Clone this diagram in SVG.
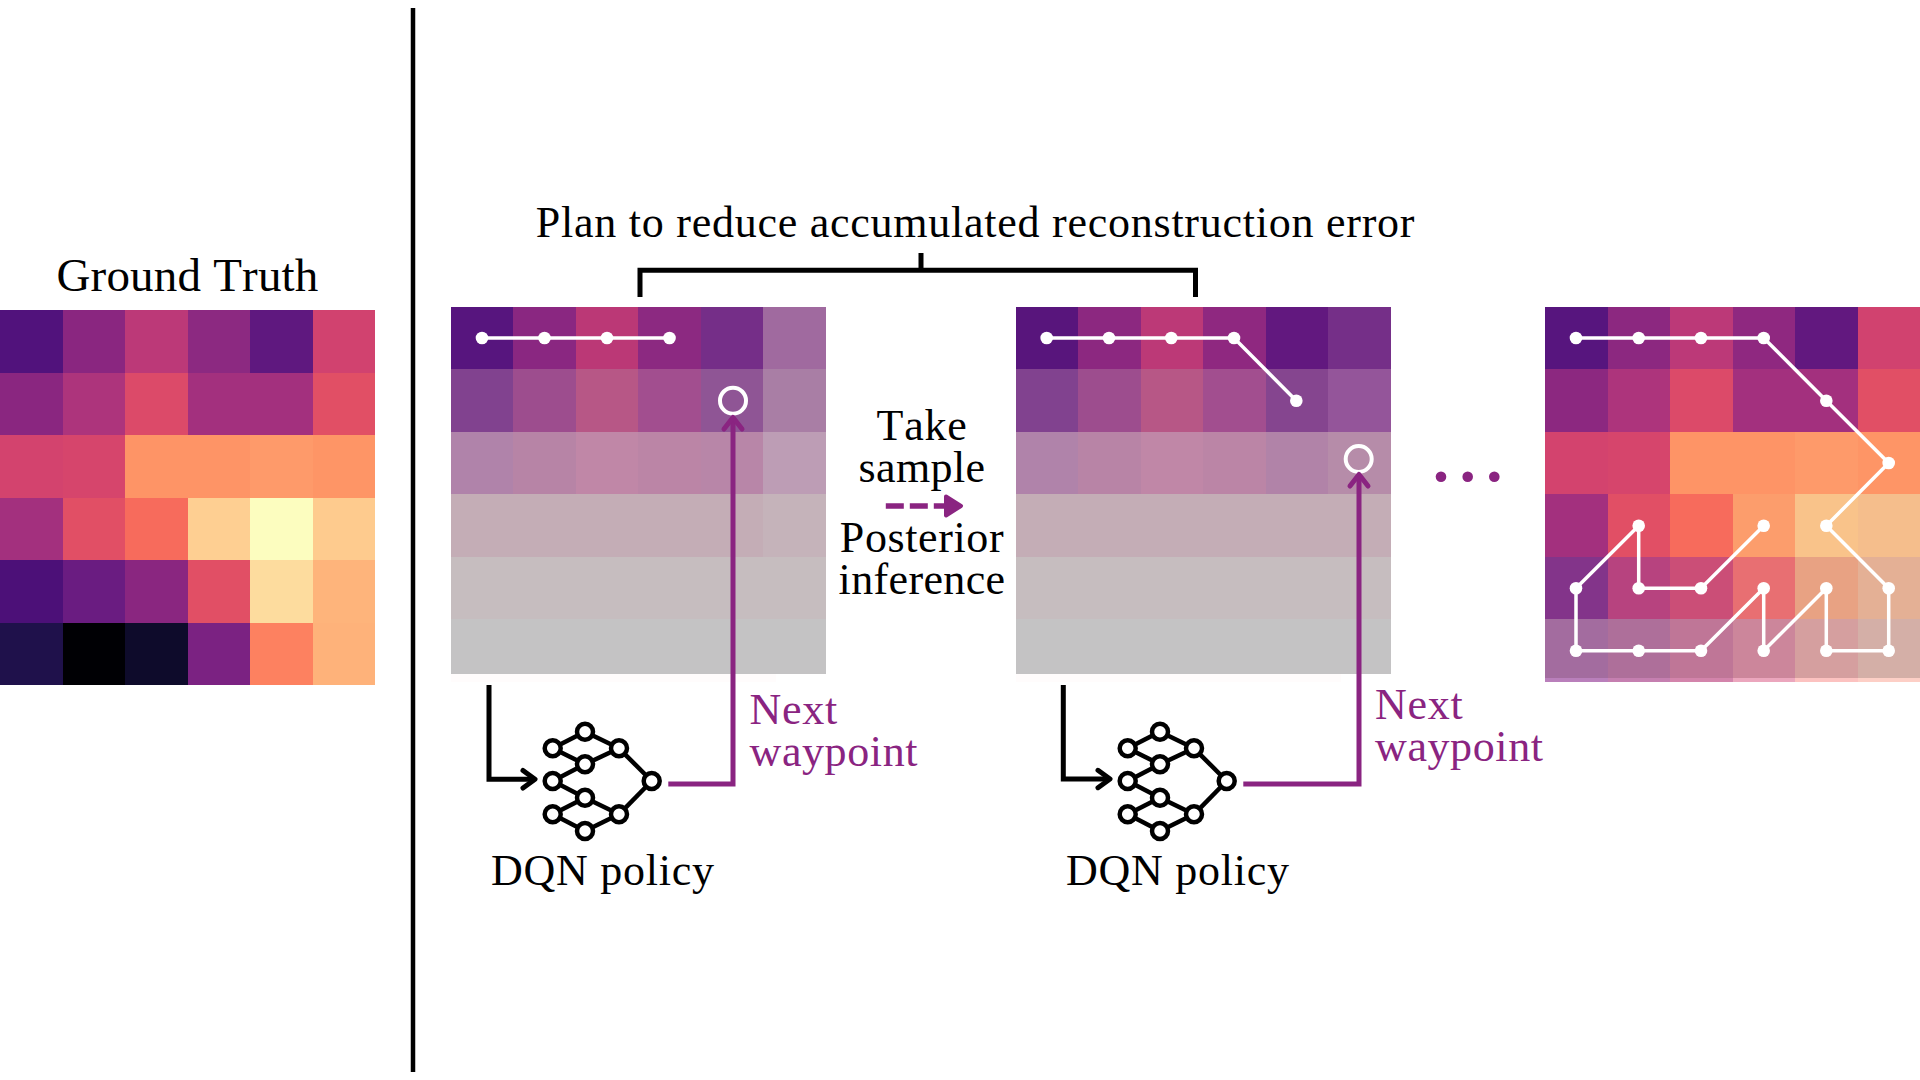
<svg xmlns="http://www.w3.org/2000/svg" width="1920" height="1080" viewBox="0 0 1920 1080">
<style>
text{font-family:"Liberation Serif","Times New Roman",serif;font-size:44px;fill:#000;letter-spacing:.75px;font-kerning:none}
.m{text-anchor:middle}
.p{fill:#8a2481}
.path{fill:none;stroke:#fff;stroke-width:3.5;stroke-linejoin:round}
.dot{fill:#fff}
.ring{fill:none;stroke:#fff;stroke-width:4}
.blk{fill:none;stroke:#000;stroke-width:5}
.pur{fill:none;stroke:#8a2481;stroke-width:5}
.net line{stroke:#000;stroke-width:4.5}
.net circle{fill:#fff;stroke:#000;stroke-width:4.5}
</style>
<defs>
<g id="net" class="net">
<line x1="552.7" y1="748.3" x2="585" y2="731.7"/><line x1="585" y1="731.7" x2="619" y2="748.3"/>
<line x1="552.7" y1="748.3" x2="585" y2="764.3"/><line x1="585" y1="764.3" x2="619" y2="748.3"/>
<line x1="552.7" y1="781" x2="585" y2="764.3"/><line x1="552.7" y1="781" x2="585" y2="797.7"/>
<line x1="552.7" y1="814.3" x2="585" y2="797.7"/><line x1="585" y1="797.7" x2="619" y2="814.3"/>
<line x1="552.7" y1="814.3" x2="585" y2="831"/><line x1="585" y1="831" x2="619" y2="814.3"/>
<line x1="619" y1="748.3" x2="651.7" y2="781"/><line x1="619" y1="814.3" x2="651.7" y2="781"/>
<circle cx="585" cy="731.7" r="8"/><circle cx="552.7" cy="748.3" r="8"/><circle cx="619" cy="748.3" r="8"/>
<circle cx="585" cy="764.3" r="8"/><circle cx="552.7" cy="781" r="8"/><circle cx="651.7" cy="781" r="8"/>
<circle cx="585" cy="797.7" r="8"/><circle cx="552.7" cy="814.3" r="8"/><circle cx="619" cy="814.3" r="8"/>
<circle cx="585" cy="831" r="8"/>
</g>
</defs>
<rect width="1920" height="1080" fill="#fff"/>

<g id="ground-truth">
<g shape-rendering="crispEdges">
<rect x="0" y="310" width="63" height="63" fill="#51127c"/><rect x="63" y="310" width="63" height="63" fill="#8a2680"/><rect x="125" y="310" width="63" height="63" fill="#bc3978"/><rect x="188" y="310" width="63" height="63" fill="#8c2981"/><rect x="250" y="310" width="63" height="63" fill="#5f187f"/><rect x="313" y="310" width="62" height="63" fill="#d1426f"/>
<rect x="0" y="373" width="63" height="62" fill="#8a2680"/><rect x="63" y="373" width="63" height="62" fill="#ad347c"/><rect x="125" y="373" width="63" height="62" fill="#dc4a69"/><rect x="188" y="373" width="63" height="62" fill="#a3307e"/><rect x="250" y="373" width="63" height="62" fill="#a3307e"/><rect x="313" y="373" width="62" height="62" fill="#e14f65"/>
<rect x="0" y="435" width="63" height="63" fill="#d3436e"/><rect x="63" y="435" width="63" height="63" fill="#d6456c"/><rect x="125" y="435" width="63" height="63" fill="#fe9466"/><rect x="188" y="435" width="63" height="63" fill="#fe9466"/><rect x="250" y="435" width="63" height="63" fill="#fe9a6a"/><rect x="313" y="435" width="62" height="63" fill="#fe9566"/>
<rect x="0" y="498" width="63" height="63" fill="#a3307e"/><rect x="63" y="498" width="63" height="63" fill="#e14f65"/><rect x="125" y="498" width="63" height="63" fill="#f76b5c"/><rect x="188" y="498" width="63" height="63" fill="#fecf92"/><rect x="250" y="498" width="63" height="63" fill="#fcfdbf"/><rect x="313" y="498" width="62" height="63" fill="#fecb8e"/>
<rect x="0" y="560" width="63" height="63" fill="#4c1078"/><rect x="63" y="560" width="63" height="63" fill="#6a1c81"/><rect x="125" y="560" width="63" height="63" fill="#8a2680"/><rect x="188" y="560" width="63" height="63" fill="#e14f65"/><rect x="250" y="560" width="63" height="63" fill="#fddc9e"/><rect x="313" y="560" width="62" height="63" fill="#feb47b"/>
<rect x="0" y="623" width="63" height="62" fill="#1f114b"/><rect x="63" y="623" width="63" height="62" fill="#000004"/><rect x="125" y="623" width="63" height="62" fill="#0e0b2b"/><rect x="188" y="623" width="63" height="62" fill="#7b2282"/><rect x="250" y="623" width="63" height="62" fill="#fd8160"/><rect x="313" y="623" width="62" height="62" fill="#feb27a"/>
</g>
<text class="m" x="187.500" y="291" style="font-size:47px;letter-spacing:.2px">Ground Truth</text>
</g>

<g id="divider"><line x1="413" y1="8" x2="413" y2="1072" stroke="#000" stroke-width="4.500"/></g>

<g id="belief-1">
<g shape-rendering="crispEdges">
<rect x="450.500" y="306.500" width="63" height="63" fill="#57157e"/><rect x="513" y="306.500" width="63" height="63" fill="#8a2781"/><rect x="575.500" y="306.500" width="63" height="63" fill="#bb3876"/><rect x="638" y="306.500" width="63" height="63" fill="#8c2981"/><rect x="700.500" y="306.500" width="63" height="63" fill="#752e88"/><rect x="763" y="306.500" width="62.500" height="63" fill="#a06a9f"/>
<rect x="450.500" y="369" width="63" height="63" fill="#81428f"/><rect x="513" y="369" width="63" height="63" fill="#9d4d8e"/><rect x="575.500" y="369" width="63" height="63" fill="#b75786"/><rect x="638" y="369" width="63" height="63" fill="#a24e8f"/><rect x="700.500" y="369" width="63" height="63" fill="#8f5595"/><rect x="763" y="369" width="62.500" height="63" fill="#a97ea5"/>
<rect x="450.500" y="431.500" width="63" height="63" fill="#b083aa"/><rect x="513" y="431.500" width="63" height="63" fill="#b784a6"/><rect x="575.500" y="431.500" width="63" height="63" fill="#c087a7"/><rect x="638" y="431.500" width="63" height="63" fill="#bb85a6"/><rect x="700.500" y="431.500" width="63" height="63" fill="#b886a8"/><rect x="763" y="431.500" width="62.500" height="63" fill="#bd9db5"/>
<rect x="450.500" y="494" width="375" height="63" fill="#c4adb6"/><rect x="763" y="494" width="62.500" height="63" fill="#c5b3ba"/>
<rect x="450.500" y="556.500" width="375" height="63" fill="#c6bdbf"/>
<rect x="450.500" y="619" width="375" height="54.500" fill="#c4c3c4"/>
<rect x="450.500" y="673.500" width="325" height="8" fill="#fffcfc"/>
</g>
<polyline class="path" points="482,338 544.500,338 607,338 669.500,338"/>
<circle class="dot" cx="482" cy="338" r="6.300"/><circle class="dot" cx="544.500" cy="338" r="6.300"/><circle class="dot" cx="607" cy="338" r="6.300"/><circle class="dot" cx="669.500" cy="338" r="6.300"/>
<circle class="ring" cx="733" cy="400.700" r="13"/>
</g>

<g id="belief-2">
<g shape-rendering="crispEdges">
<rect x="1015.500" y="306.500" width="63" height="63" fill="#58157c"/><rect x="1078" y="306.500" width="63" height="63" fill="#8c2880"/><rect x="1140.500" y="306.500" width="63" height="63" fill="#bc3977"/><rect x="1203" y="306.500" width="63" height="63" fill="#8f2880"/><rect x="1265.500" y="306.500" width="63" height="63" fill="#62187f"/><rect x="1328" y="306.500" width="62.500" height="63" fill="#752f88"/>
<rect x="1015.500" y="369" width="63" height="63" fill="#81428f"/><rect x="1078" y="369" width="63" height="63" fill="#9d4d8e"/><rect x="1140.500" y="369" width="63" height="63" fill="#b75786"/><rect x="1203" y="369" width="63" height="63" fill="#a24e8f"/><rect x="1265.500" y="369" width="63" height="63" fill="#85458f"/><rect x="1328" y="369" width="62.500" height="63" fill="#94559a"/>
<rect x="1015.500" y="431.500" width="63" height="63" fill="#b083aa"/><rect x="1078" y="431.500" width="63" height="63" fill="#b884a6"/><rect x="1140.500" y="431.500" width="63" height="63" fill="#c087a7"/><rect x="1203" y="431.500" width="63" height="63" fill="#bb85a6"/><rect x="1265.500" y="431.500" width="63" height="63" fill="#b183a8"/><rect x="1328" y="431.500" width="62.500" height="63" fill="#b68ca9"/>
<rect x="1015.500" y="494" width="375" height="63" fill="#c4adb6"/>
<rect x="1015.500" y="556.500" width="375" height="63" fill="#c6bdbf"/>
<rect x="1015.500" y="619" width="375" height="55" fill="#c4c3c4"/>
<rect x="1015.500" y="674" width="325" height="8" fill="#fffcfc"/>
</g>
<polyline class="path" points="1046.700,338 1109,338 1171.300,338 1234,338 1296.300,400.700"/>
<circle class="dot" cx="1046.700" cy="338" r="6.300"/><circle class="dot" cx="1109" cy="338" r="6.300"/><circle class="dot" cx="1171.300" cy="338" r="6.300"/><circle class="dot" cx="1234" cy="338" r="6.300"/><circle class="dot" cx="1296.300" cy="400.700" r="6.300"/>
<circle class="ring" cx="1358.700" cy="459" r="13"/>
</g>

<g id="belief-3">
<g shape-rendering="crispEdges">
<rect x="1545" y="306.500" width="63" height="63" fill="#57157e"/><rect x="1607.500" y="306.500" width="63" height="63" fill="#8c2880"/><rect x="1670" y="306.500" width="63" height="63" fill="#bc3978"/><rect x="1732.500" y="306.500" width="63" height="63" fill="#8f2880"/><rect x="1795" y="306.500" width="63" height="63" fill="#62187f"/><rect x="1857.500" y="306.500" width="63" height="63" fill="#d1426f"/>
<rect x="1545" y="369" width="63" height="63" fill="#8c2880"/><rect x="1607.500" y="369" width="63" height="63" fill="#ad347c"/><rect x="1670" y="369" width="63" height="63" fill="#dc4a69"/><rect x="1732.500" y="369" width="125" height="63" fill="#a3307e"/><rect x="1857.500" y="369" width="63" height="63" fill="#e14f65"/>
<rect x="1545" y="431.500" width="63" height="63" fill="#d3436e"/><rect x="1607.500" y="431.500" width="63" height="63" fill="#d6456c"/><rect x="1670" y="431.500" width="125" height="63" fill="#fe9466"/><rect x="1795" y="431.500" width="63" height="63" fill="#fe9a6a"/><rect x="1857.500" y="431.500" width="63" height="63" fill="#fe9566"/>
<rect x="1545" y="494" width="63" height="63" fill="#a3307e"/><rect x="1607.500" y="494" width="63" height="63" fill="#e14f65"/><rect x="1670" y="494" width="63" height="63" fill="#f76b5c"/><rect x="1732.500" y="494" width="63" height="63" fill="#fc9d6c"/><rect x="1795" y="494" width="63" height="63" fill="#f9c38a"/><rect x="1857.500" y="494" width="63" height="63" fill="#f5be8c"/>
<rect x="1545" y="556.500" width="63" height="63" fill="#83348a"/><rect x="1607.500" y="556.500" width="63" height="63" fill="#b7437f"/><rect x="1670" y="556.500" width="63" height="63" fill="#cb4e77"/><rect x="1732.500" y="556.500" width="63" height="63" fill="#e86f72"/><rect x="1795" y="556.500" width="63" height="63" fill="#e8a283"/><rect x="1857.500" y="556.500" width="63" height="63" fill="#e4b095"/>
<rect x="1545" y="619" width="63" height="59" fill="#a36c9f"/><rect x="1607.500" y="619" width="63" height="59" fill="#ae6f9a"/><rect x="1670" y="619" width="63" height="59" fill="#bf7697"/><rect x="1732.500" y="619" width="63" height="59" fill="#cc869b"/><rect x="1795" y="619" width="63" height="59" fill="#d59f9f"/><rect x="1857.500" y="619" width="63" height="59" fill="#d4afa7"/>
<rect x="1545" y="678" width="63" height="3.500" fill="#b97fbb"/><rect x="1607.500" y="678" width="63" height="3.500" fill="#c57fb0"/><rect x="1670" y="678" width="63" height="3.500" fill="#d384ab"/><rect x="1732.500" y="678" width="63" height="3.500" fill="#eba6bd"/><rect x="1795" y="678" width="63" height="3.500" fill="#fcc2c0"/><rect x="1857.500" y="678" width="63" height="3.500" fill="#fdcfc6"/>
</g>
<polyline class="path" points="1576,338 1638.700,338 1701,338 1763.700,338 1826.300,400.700 1888.700,463 1826.300,525.700 1888.700,588.300 1888.700,650.700 1826.300,650.700 1826.300,588.300 1763.700,650.700 1763.700,588.300 1701,650.700 1638.700,650.700 1576,650.700 1576,588.300 1638.700,525.700 1638.700,588.300 1701,588.300 1763.700,525.700"/>
<g class="dot">
<circle cx="1576" cy="338" r="6.300"/><circle cx="1638.700" cy="338" r="6.300"/><circle cx="1701" cy="338" r="6.300"/><circle cx="1763.700" cy="338" r="6.300"/><circle cx="1826.300" cy="400.700" r="6.300"/><circle cx="1888.700" cy="463" r="6.300"/><circle cx="1826.300" cy="525.700" r="6.300"/><circle cx="1888.700" cy="588.300" r="6.300"/><circle cx="1888.700" cy="650.700" r="6.300"/><circle cx="1826.300" cy="650.700" r="6.300"/><circle cx="1826.300" cy="588.300" r="6.300"/><circle cx="1763.700" cy="650.700" r="6.300"/><circle cx="1763.700" cy="588.300" r="6.300"/><circle cx="1701" cy="650.700" r="6.300"/><circle cx="1638.700" cy="650.700" r="6.300"/><circle cx="1576" cy="650.700" r="6.300"/><circle cx="1576" cy="588.300" r="6.300"/><circle cx="1638.700" cy="525.700" r="6.300"/><circle cx="1638.700" cy="588.300" r="6.300"/><circle cx="1701" cy="588.300" r="6.300"/><circle cx="1763.700" cy="525.700" r="6.300"/>
</g>
</g>

<g id="connectors">
<path class="blk" d="M640 297V270.300H1195.500V297M921 253V270.300"/>
<path class="blk" d="M489 685V779.300H534"/>
<path class="blk" stroke-linecap="round" stroke-linejoin="round" d="M523 770.500L535 779.300L523 788"/>
<path class="blk" d="M1063.300 685V779H1109"/>
<path class="blk" stroke-linecap="round" stroke-linejoin="round" d="M1098 770.300L1110 779L1098 787.700"/>
<path class="pur" d="M668.300 784H733V418"/>
<path class="pur" stroke-linecap="round" stroke-linejoin="round" stroke-width="5" d="M724 429L733 417.500L742 429"/>
<path class="pur" d="M1243.300 784H1359V474.500"/>
<path class="pur" stroke-linecap="round" stroke-linejoin="round" stroke-width="5" d="M1350 486L1359 474.500L1368 486"/>
<line x1="885.800" y1="506" x2="946" y2="506" stroke="#8a2481" stroke-width="5.500" stroke-dasharray="18 6"/>
<path d="M946 496.500L961 506L946 515.500Z" fill="#8a2481" stroke="#8a2481" stroke-width="4" stroke-linejoin="round"/>
</g>

<g id="dqn-1"><use href="#net"/><text x="491" y="885">DQN policy</text></g>
<g id="dqn-2"><use href="#net" transform="translate(575 0)"/><text x="1066" y="885">DQN policy</text></g>

<g id="labels">
<text class="m" x="975.500" y="236.700">Plan to reduce accumulated reconstruction error</text>
<text class="m" x="922" y="440">Take</text>
<text class="m" x="922" y="481.700" style="letter-spacing:.4px">sample</text>
<text class="m" x="922" y="552" style="letter-spacing:.6px">Posterior</text>
<text class="m" x="922" y="594" style="letter-spacing:.35px">inference</text>
<text class="p" x="749.500" y="724">Next</text>
<text class="p" x="749.500" y="766" style="letter-spacing:.6px">waypoint</text>
<text class="p" x="1375" y="719">Next</text>
<text class="p" x="1375" y="761" style="letter-spacing:.6px">waypoint</text>
</g>
<g id="ellipsis" fill="#8a2481"><circle cx="1441" cy="476.700" r="5.300"/><circle cx="1467.700" cy="476.700" r="5.300"/><circle cx="1494.300" cy="476.700" r="5.300"/></g>
</svg>
